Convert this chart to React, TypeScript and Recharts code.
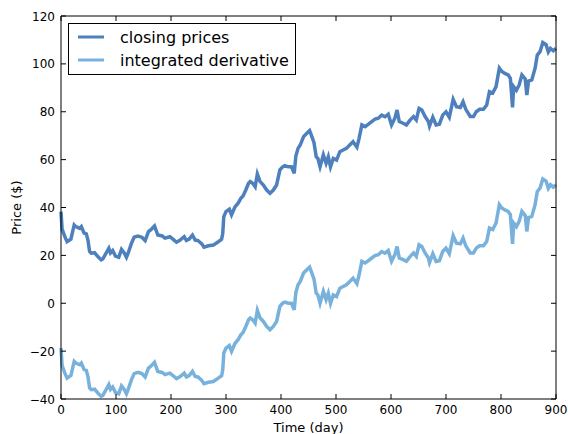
import React from 'react';
import { LineChart, Line, XAxis, YAxis, Legend } from 'recharts';

const days = [
  0, 2, 7, 11, 18, 24, 27, 34, 37, 42, 46, 49, 52, 55, 61, 67, 73, 76, 82, 87,
  90, 94, 99, 105, 110, 115, 119, 122, 128, 133, 140, 147, 153, 159, 163, 170, 176, 184, 189, 198,
  204, 210, 216, 224, 228, 233, 239, 244, 249, 256, 260, 268, 277, 286, 292, 294, 296, 300, 306, 310,
  316, 322, 327, 331, 336, 341, 344, 349, 353, 357, 362, 368, 374, 380, 386, 392, 398, 403, 407, 413,
  419, 424, 427, 431, 435, 441, 447, 452, 455, 460, 464, 467, 471, 477, 482, 486, 490, 495, 501, 507,
  513, 519, 525, 531, 538, 542, 547, 553, 559, 565, 571, 577, 583, 589, 595, 601, 607, 611, 615, 622,
  628, 635, 641, 646, 651, 656, 662, 668, 670, 676, 682, 688, 694, 700, 706, 713, 719, 726, 731, 736,
  744, 750, 755, 761, 768, 774, 779, 785, 791, 797, 801, 807, 813, 817, 821, 823, 828, 833, 838, 844,
  847, 850, 856, 862, 866, 871, 876, 882, 886, 890, 895, 900,
];

const closingPrices = [
  38.3, 31, 27.8, 25.7, 26.8, 32.7, 32, 31.3, 32, 29.3, 29, 26.4, 21.6, 20.9, 21.1, 19.5, 18.1, 18.5, 20.9, 23,
  21, 22, 19.7, 19.2, 22.5, 21, 19.2, 20.9, 25, 27.6, 28.1, 27.6, 26.2, 29.9, 30.6, 32.3, 28.5, 28.1, 27.2, 27.8,
  26.7, 25.5, 26.3, 27.8, 26.2, 26.8, 28.5, 26.4, 26.2, 24.8, 23.4, 24, 24.3, 25.7, 26.7, 29, 36.2, 38.3, 39.3, 36.9,
  40.1, 41.8, 43.8, 44.8, 47.3, 50.1, 50.8, 50, 48.7, 54, 50.8, 49.4, 47.3, 45.9, 47.3, 49.4, 55.7, 57, 57.5, 57,
  57, 54.3, 61.5, 64.7, 66.1, 69.6, 71, 72.1, 70.3, 67.1, 61.2, 60.5, 57, 62, 58.5, 61.2, 57, 60.5, 59.8, 63.3,
  64, 64.7, 66.1, 67.5, 65.2, 68.9, 74.5, 73.8, 74.8, 75.9, 76.9, 77.3, 78.6, 77.9, 79, 74.5, 77.3, 80.7, 75.9, 75.2,
  74.5, 76.6, 78, 76.6, 81.4, 80.7, 78, 75.9, 74, 77.7, 74.5, 74.8, 78.6, 80, 77.7, 85.2, 82.1, 81.8, 84.2, 81,
  78, 78, 80, 81, 81, 82.8, 88.4, 87.8, 90.5, 98.2, 96.9, 96, 95.4, 94, 81.8, 90.5, 89, 91.2, 95.4, 93.7,
  87, 92.8, 93.3, 98.2, 103.7, 105.1, 108.9, 108, 105, 106.5, 105.5, 106.5,
];

const integratedDerivative = [
  -18.7, -26, -29.2, -31.3, -30.2, -24.3, -25, -25.7, -25, -27.7, -28, -30.6, -35.4, -36.1, -35.9, -37.5, -38.9, -38.5, -36.1, -34,
  -36, -35, -37.3, -37.8, -34.5, -36, -37.8, -36.1, -32, -29.4, -28.9, -29.4, -30.8, -27.1, -26.4, -24.7, -28.5, -28.9, -29.8, -29.2,
  -30.3, -31.5, -30.7, -29.2, -30.8, -30.2, -28.5, -30.6, -30.8, -32.2, -33.6, -33, -32.7, -31.3, -30.3, -28, -20.8, -18.7, -17.7, -20.1,
  -16.9, -15.2, -13.2, -12.2, -9.7, -6.9, -6.2, -7, -8.3, -3, -6.2, -7.6, -9.7, -11.1, -9.7, -7.6, -1.3, 0, 0.5, 0,
  0, -2.7, 4.5, 7.7, 9.1, 12.6, 14, 15.1, 13.3, 10.1, 4.2, 3.5, 0, 5, 1.5, 4.2, 0, 3.5, 2.8, 6.3,
  7, 7.7, 9.1, 10.5, 8.2, 11.9, 17.5, 16.8, 17.8, 18.9, 19.9, 20.3, 21.6, 20.9, 22, 17.5, 20.3, 23.7, 18.9, 18.2,
  17.5, 19.6, 21, 19.6, 24.4, 23.7, 21, 18.9, 17, 20.7, 17.5, 17.8, 21.6, 23, 20.7, 28.2, 25.1, 24.8, 27.2, 24,
  21, 21, 23, 24, 24, 25.8, 31.4, 30.8, 33.5, 41.2, 39.9, 39, 38.4, 37, 24.8, 33.5, 32, 34.2, 38.4, 36.7,
  30, 35.8, 36.3, 41.2, 46.7, 48.1, 51.9, 51, 48, 49.5, 48.5, 49.5,
];

const xTicks = [0, 100, 200, 300, 400, 500, 600, 700, 800, 900];
const yTicks = [-40, -20, 0, 20, 40, 60, 80, 100, 120];

const seriesNames = ['closing prices', 'integrated derivative'];
const darkBlue = '#4d80bd';
const lightBlue = '#78b2dc';

const data = days.map((d, i) => ({
  day: d,
  closing: closingPrices[i],
  integrated: integratedDerivative[i],
}));

const fmt = (v: number) => (v < 0 ? `\u2212${Math.abs(v)}` : `${v}`);

const BottomTick = (props: any) => {
  const { x, y, payload } = props;
  return (
    <g>
      <line x1={x} x2={x} y1={y} y2={y - 5} stroke="#000" />
      <text x={x} y={y + 15} textAnchor="middle" fontSize={12} fill="#000">
        {fmt(payload.value)}
      </text>
    </g>
  );
};

const TopTick = (props: any) => {
  const { x, y } = props;
  return <line x1={x} x2={x} y1={y} y2={y + 5} stroke="#000" />;
};

const LeftTick = (props: any) => {
  const { x, y, payload } = props;
  return (
    <g>
      <line x1={x} x2={x + 5} y1={y} y2={y} stroke="#000" />
      <text x={x - 6} y={y + 4.5} textAnchor="end" fontSize={12} fill="#000">
        {fmt(payload.value)}
      </text>
    </g>
  );
};

const RightTick = (props: any) => {
  const { x, y } = props;
  return <line x1={x} x2={x - 5} y1={y} y2={y} stroke="#000" />;
};

const renderLegend = () => (
  <svg width={228} height={52} style={{ display: 'block' }}>
    <rect x={0.5} y={0.5} width={227} height={51} fill="#fff" stroke="#000" />
    <line x1={10} x2={36} y1={14} y2={14} stroke={darkBlue} strokeWidth={3} />
    <text x={52} y={19.5} fontSize={16} fill="#000">{seriesNames[0]}</text>
    <line x1={10} x2={36} y1={37} y2={37} stroke={lightBlue} strokeWidth={3} />
    <text x={52} y={42.5} fontSize={16} fill="#000">{seriesNames[1]}</text>
  </svg>
);

export default function App() {
  return (
    <div style={{ position: 'absolute', left: 0, top: 0, background: '#fff' }}>
      <LineChart
        width={568}
        height={434}
        data={data}
        margin={{ top: 15, right: 11, left: 0, bottom: 0 }}
        style={{ fontFamily: 'DejaVu Sans' }}
      >
        <XAxis
          dataKey="day"
          type="number"
          domain={[0, 900]}
          ticks={xTicks}
          interval={0}
          height={35}
          tickSize={0}
          tickMargin={0}
          tickLine={false}
          axisLine={{ stroke: '#000' }}
          tick={<BottomTick />}
          label={{ value: 'Time (day)', position: 'insideBottom', offset: 2, style: { fontSize: 13, fill: '#000' } }}
        />
        <XAxis
          xAxisId="top"
          orientation="top"
          dataKey="day"
          type="number"
          domain={[0, 900]}
          ticks={xTicks}
          interval={0}
          height={1}
          tickSize={0}
          tickMargin={0}
          tickLine={false}
          axisLine={{ stroke: '#000' }}
          tick={<TopTick />}
        />
        <YAxis
          type="number"
          domain={[-40, 120]}
          ticks={yTicks}
          interval={0}
          width={61}
          tickSize={0}
          tickMargin={0}
          tickLine={false}
          axisLine={{ stroke: '#000' }}
          tick={<LeftTick />}
          label={{ value: 'Price ($)', angle: -90, position: 'insideLeft', offset: 16, style: { fontSize: 13, fill: '#000', textAnchor: 'middle' } }}
        />
        <YAxis
          yAxisId="right"
          orientation="right"
          type="number"
          domain={[-40, 120]}
          ticks={yTicks}
          interval={0}
          width={1}
          tickSize={0}
          tickMargin={0}
          tickLine={false}
          axisLine={{ stroke: '#000' }}
          tick={<RightTick />}
        />
        <Legend
          layout="vertical"
          align="center"
          verticalAlign="middle"
          content={renderLegend}
          wrapperStyle={{ left: 68, top: 23, width: 228, height: 52 }}
        />
        <Line
          type="linear"
          dataKey="closing"
          name={seriesNames[0]}
          stroke={darkBlue}
          strokeWidth={3.5}
          dot={false}
          isAnimationActive={false}
        />
        <Line
          type="linear"
          xAxisId="top"
          yAxisId="right"
          dataKey="integrated"
          name={seriesNames[1]}
          stroke={lightBlue}
          strokeWidth={3.5}
          dot={false}
          isAnimationActive={false}
        />
      </LineChart>
    </div>
  );
}
